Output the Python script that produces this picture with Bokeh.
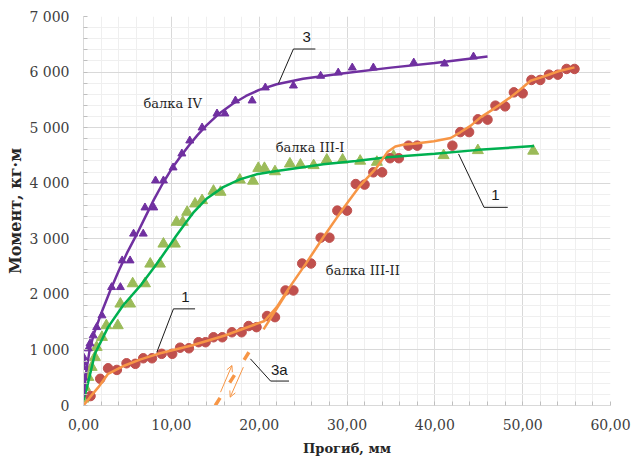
from bokeh.plotting import figure
from bokeh.models import Range1d, SingleIntervalTicker, Arrow, OpenHead, Label
from bokeh.embed import file_html
from bokeh.resources import INLINE

# ---------------- data ----------------
x_tick_values = [0, 10, 20, 30, 40, 50, 60]
x_tick_labels = ["0,00", "10,00", "20,00", "30,00", "40,00", "50,00", "60,00"]
y_tick_values = [0, 1000, 2000, 3000, 4000, 5000, 6000, 7000]
y_tick_labels = ["0", "1 000", "2 000", "3 000", "4 000", "5 000", "6 000", "7 000"]

# балка IV (purple triangles)
iv_x = [0, 0, 0, 0, 0.55, 0.74, 1.1, 1.5, 2.1, 3.2, 4.2, 4.4, 5.3, 5.7, 6.8, 7.0, 8.0, 8.2, 9.1,
        10.2, 11.2, 12.1, 13.5, 15.2, 16.1, 17.3, 19.2, 20.7, 23.9, 27.0, 29.0, 30.6, 33.0,
        37.6, 41.1, 44.4]
iv_y = [509, 689, 779, 869, 1025, 1115, 1259, 1408, 1619, 2128, 2128, 2608, 2608, 3090, 3090,
        3561, 3561, 4047, 4047, 4281, 4532, 4766, 5000, 5252, 5252, 5486, 5486, 5720, 5755,
        5930, 5989, 6079, 6079, 6169, 6151, 6277]
iv_curve_x = [0, 0.3, 0.7, 1.2, 2.0, 3.0, 4.0, 5.0, 6.0, 7.0, 8.0, 9.0, 10.0, 11.0, 12.0, 13.0,
              14.0, 15.5, 17.0, 18.5, 20.0, 22.0, 25.0, 29.2, 35.0, 40.0, 46.0]
iv_curve_y = [150, 600, 1000, 1300, 1650, 2050, 2420, 2760, 3060, 3380, 3700, 3990, 4250, 4470,
              4680, 4870, 5040, 5260, 5430, 5570, 5680, 5780, 5880, 5971, 6080, 6165, 6280]

# балка III-I (green triangles)
iii1_x = [0, 0.17, 0.55, 0.93, 1.3, 1.5, 2.1, 2.6, 3.9, 4.2, 5.3, 5.6, 7.0, 7.6, 8.7, 9.1, 10.4,
          10.6, 11.3, 11.8, 12.7, 13.5, 14.8, 15.6, 17.8, 19.3, 19.9, 20.6, 21.8, 23.5, 24.7,
          26.2, 27.7, 29.5, 31.5, 33.4, 35.3, 41.0, 44.9, 51.2]
iii1_y = [120, 329, 509, 689, 869, 1049, 1229, 1439, 1439, 1829, 1829, 2194, 2194, 2548, 2548,
          2908, 2908, 3300, 3300, 3480, 3630, 3690, 3860, 3840, 4060, 4040, 4270, 4270, 4210,
          4350, 4330, 4320, 4420, 4420, 4400, 4380, 4490, 4500, 4590, 4580]
iii1_curve_x = [0, 0.4, 1.3, 2.8, 4.5, 6.6, 8.2, 9.5, 10.5, 11.6, 12.5, 14.0, 15.9, 17.8, 19.7,
                22.0, 24.0, 27.3, 31.0, 34.6, 40.0, 45.0, 51.3]
iii1_curve_y = [100, 330, 930, 1410, 1800, 2180, 2520, 2810, 3040, 3280, 3470, 3720, 3930, 4070,
                4160, 4220, 4265, 4340, 4400, 4466, 4530, 4600, 4670]

# балка III-II (red circles)
iii2_x = [0.8, 1.9, 2.8, 3.8, 4.9, 5.9, 6.8, 7.8, 8.9, 10.1, 11.0, 12.0, 13.1, 13.9, 14.8, 15.8,
          16.9, 18.0, 18.8, 19.7, 20.9, 21.8, 23.0, 23.9, 24.9, 25.9, 27.0, 28.0, 28.9, 30.0,
          31.0, 32.0, 33.0, 34.0, 34.9, 35.9, 37.0, 38.0, 42.0, 42.9, 43.9, 44.9, 46.0, 46.9,
          48.0, 49.0, 50.0, 51.0, 52.0, 53.0, 54.0, 55.0, 55.9]
iii2_y = [170, 480, 670, 640, 760, 750, 850, 850, 930, 930, 1040, 1030, 1139, 1139, 1228, 1228,
          1318, 1318, 1430, 1410, 1610, 1590, 2070, 2070, 2555, 2555, 3020, 3020, 3507, 3507,
          3985, 3975, 4196, 4196, 4450, 4450, 4676, 4676, 4676, 4920, 4920, 5150, 5144, 5396,
          5383, 5635, 5617, 5858, 5858, 5953, 5953, 6056, 6056]
iii2_curve_x = [0, 0.74, 1.7, 2.8, 4.7, 6.5, 8.5, 12.3, 16.1, 19.7, 20.6, 22.0, 23.3, 25.3, 27.3,
                29.4, 31.5, 33.4, 34.6, 35.5, 36.5, 37.6, 39.9, 41.8, 42.9, 44.1, 45.2, 46.4,
                47.5, 48.6, 49.8, 50.9, 52.1, 53.2, 54.3, 55.9]
iii2_curve_y = [0, 150, 330, 570, 720, 830, 930, 1079, 1259, 1469, 1520, 1770, 2090, 2548, 3027,
                3507, 3957, 4286, 4560, 4660, 4695, 4710, 4754, 4814, 4916, 5036, 5185, 5306,
                5426, 5545, 5696, 5845, 5905, 5966, 6025, 6085]

# line 3a (straight extrapolation of the steep branch)
l3a_dash_x = [15.0, 19.6]
l3a_dash_y = [0, 1150]
l3a_solid_x = [20.5, 23.3]
l3a_solid_y = [1370, 2068]
# thin arrows beside 3a
arrow_up = (15.6, 240, 16.9, 720)
arrow_down = (18.2, 690, 16.7, 150)

# leader lines: (x list, y list) and labels
leader_3_x = [22.2, 23.9, 26.4]
leader_3_y = [5797, 6415, 6415]
leader_1a_x = [8.35, 10.24, 12.7]
leader_1a_y = [959, 1739, 1739]
leader_1b_x = [42.7, 45.6, 48.3]
leader_1b_y = [4527, 3566, 3566]
leader_3a_x = [19.0, 21.3, 23.4]
leader_3a_y = [840, 440, 440]
num_labels = [("3", 25.4, 6640), ("1", 11.6, 1950), ("1", 46.9, 3780), ("3а", 22.3, 640)]
beam_labels = [("балка IV", 10.15, 5432), ("балка III-I", 25.8, 4646), ("балка III-II", 31.8, 2428)]

PURPLE = "#7030A0"
GREEN_LINE = "#00B050"
GREEN_MK = "#9BBB59"
ORANGE = "#F79646"
RED = "#C0504D"

p = figure(width=633, height=461, x_range=Range1d(0, 60), y_range=Range1d(0, 7000),
           output_backend="svg", toolbar_location=None,
           min_border_left=83, min_border_right=23, min_border_top=16, min_border_bottom=56)
p.outline_line_color = None
p.background_fill_color = "white"
p.border_fill_color = "white"

p.xaxis.ticker = SingleIntervalTicker(interval=10, num_minor_ticks=5)
p.yaxis.ticker = SingleIntervalTicker(interval=1000, num_minor_ticks=5)
p.xaxis.major_label_overrides = dict(zip(x_tick_values, x_tick_labels))
p.yaxis.major_label_overrides = dict(zip(y_tick_values, y_tick_labels))

for ax in (p.xaxis, p.yaxis):
    ax.axis_line_color = "#d9d9d9"
    ax.major_tick_line_color = None
    ax.major_tick_in = 0
    ax.major_tick_out = 0
    ax.minor_tick_line_color = "#bfbfbf"
    ax.minor_tick_in = 4
    ax.minor_tick_out = 0
    ax.major_label_text_font = "DejaVu Serif"
    ax.major_label_text_font_size = "14px"
    ax.major_label_text_color = "#404040"
    ax.axis_label_text_font = "DejaVu Serif"
    ax.axis_label_text_font_style = "bold"
    ax.axis_label_text_font_size = "13px"
    ax.axis_label_text_color = "#262626"

p.yaxis.axis_label_text_font_size = "16px"
p.xaxis.axis_label = "Прогиб, мм"
p.yaxis.axis_label = "Момент, кг·м"
p.xaxis.major_label_standoff = 13
p.yaxis.major_label_standoff = 14
p.xaxis.axis_label_standoff = 8
p.yaxis.axis_label_standoff = 1

for g in (p.xgrid, p.ygrid):
    g.grid_line_color = "#d9d9d9"
    g.minor_grid_line_color = "#efefef"

# markers
p.scatter(iii1_x, iii1_y, marker="triangle", size=11, color=GREEN_MK)
p.scatter(iv_x, iv_y, marker="triangle", size=8, color=PURPLE)
p.scatter(iii2_x, iii2_y, marker="circle", size=9.5, color=RED)

# curves
p.line(iii1_curve_x, iii1_curve_y, line_color=GREEN_LINE, line_width=2.5)
p.line(iv_curve_x, iv_curve_y, line_color=PURPLE, line_width=2.5)
p.line(iii2_curve_x, iii2_curve_y, line_color=ORANGE, line_width=2.5)

# line 3a
p.line(l3a_dash_x, l3a_dash_y, line_color=ORANGE, line_width=3.5, line_dash="9 18")
p.line(l3a_solid_x, l3a_solid_y, line_color=ORANGE, line_width=2.5)
for a in (arrow_up, arrow_down):
    p.add_layout(Arrow(end=OpenHead(size=6, line_color=ORANGE, line_width=1),
                       x_start=a[0], y_start=a[1], x_end=a[2], y_end=a[3],
                       line_color=ORANGE, line_width=1))

# leader lines
for lx, ly in ((leader_3_x, leader_3_y), (leader_1a_x, leader_1a_y),
               (leader_1b_x, leader_1b_y), (leader_3a_x, leader_3a_y)):
    p.line(lx, ly, line_color="#1a1a1a", line_width=1)

for t, x, y in num_labels:
    p.add_layout(Label(x=x, y=y, text=t, text_font="Liberation Sans", text_font_size="15px",
                       text_color="#1a1a1a", text_align="center", text_baseline="middle"))
for t, x, y in beam_labels:
    p.add_layout(Label(x=x, y=y, text=t, text_font="DejaVu Serif", text_font_size="13px",
                       text_color="#262626", text_align="center", text_baseline="middle"))

open("out.html", "w").write(file_html(p, INLINE))
